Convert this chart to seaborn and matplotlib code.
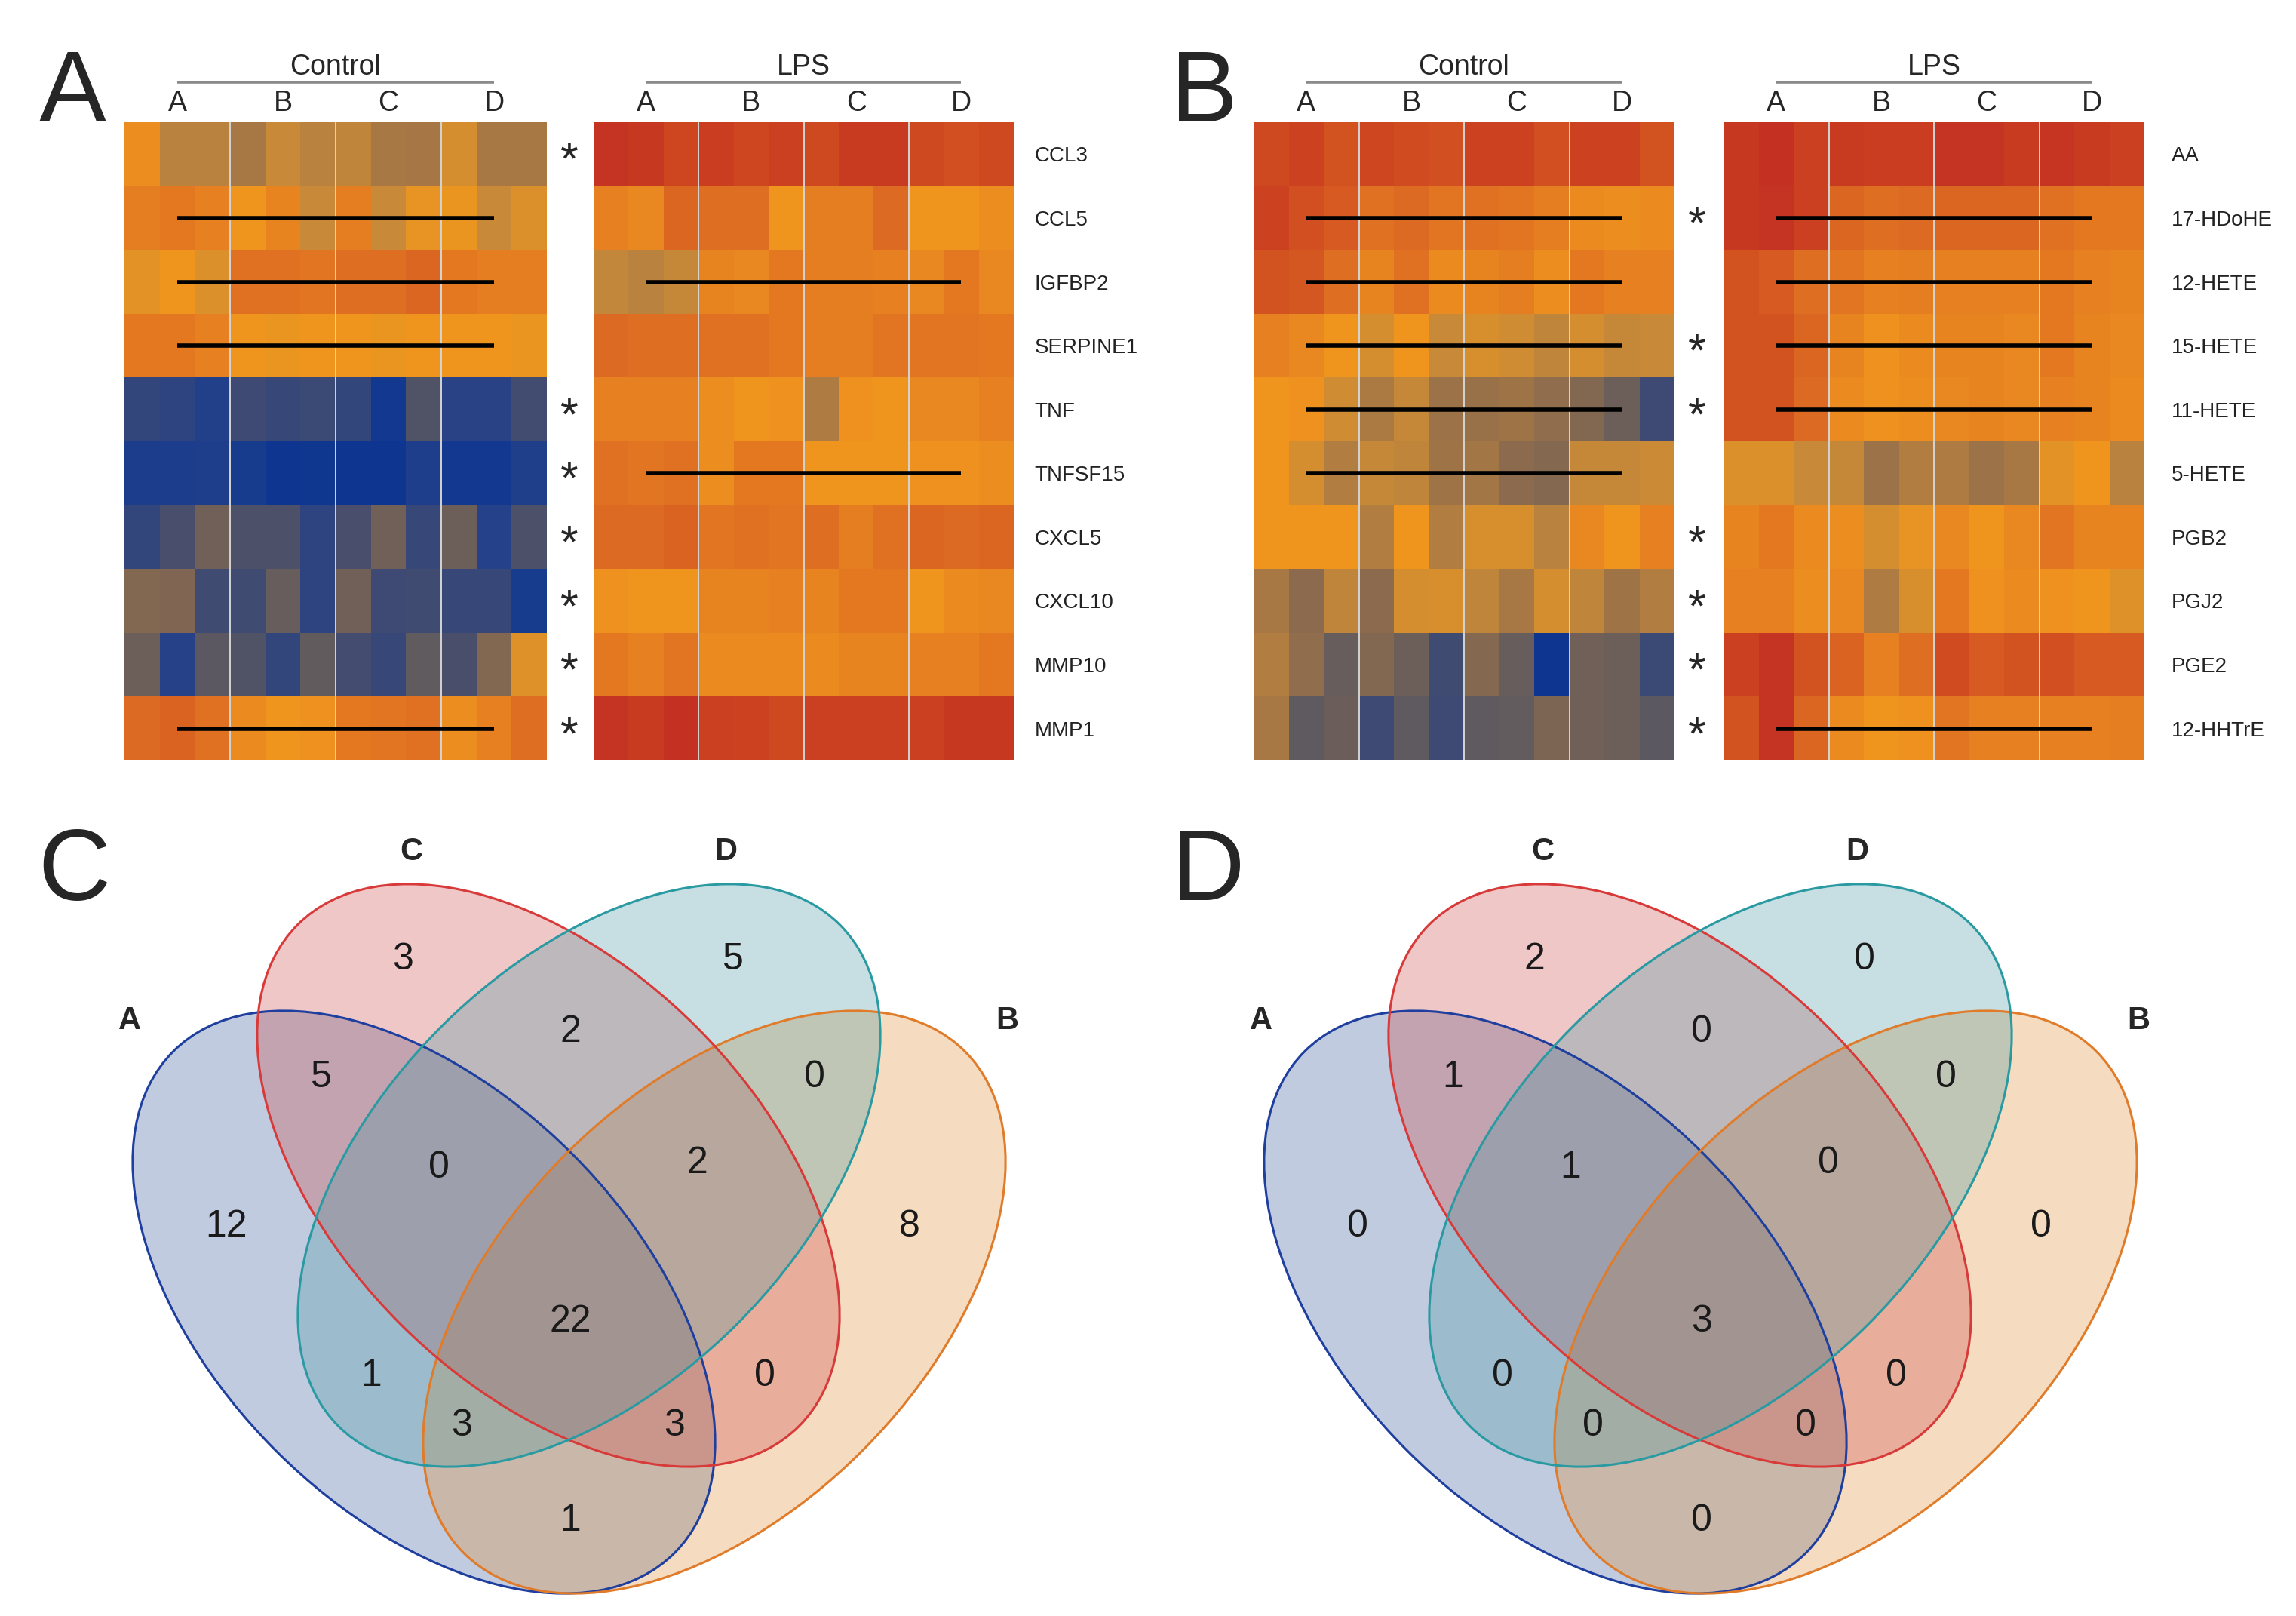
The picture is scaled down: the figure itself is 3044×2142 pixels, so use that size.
import numpy as np
import pandas as pd
import matplotlib
matplotlib.use("Agg")
import matplotlib.pyplot as plt
import seaborn as sns
from matplotlib.colors import LinearSegmentedColormap
from matplotlib.patches import Ellipse

sns.set_style("white")
plt.rcParams['font.family'] = ['Liberation Sans', 'DejaVu Sans']

W, H = 3044, 2142

groups = ['A', 'B', 'C', 'D']
replicates = [f'{g}{r}' for g in groups for r in (1, 2, 3)]
genes = ['CCL3', 'CCL5', 'IGFBP2', 'SERPINE1', 'TNF', 'TNFSF15', 'CXCL5', 'CXCL10', 'MMP10', 'MMP1']
lipids = ['AA', '17-HDoHE', '12-HETE', '15-HETE', '11-HETE', '5-HETE', 'PGB2', 'PGJ2', 'PGE2', '12-HHTrE']

# colour score per cell: 0 = deep blue ... 9 = orange ... 12 = red
a_control = [
    [9.2, 7.5, 7.5, 7.0, 8.0, 7.5, 7.7, 7.0, 6.9, 8.3, 7.0, 7.0],
    [9.7, 9.8, 9.6, 9.0, 9.5, 8.0, 9.7, 8.0, 8.8, 8.9, 8.0, 8.5],
    [8.7, 9.0, 8.5, 10.0, 10.0, 9.9, 10.1, 10.1, 10.3, 9.8, 9.7, 9.7],
    [9.8, 9.8, 9.6, 9.0, 8.9, 9.0, 9.0, 8.9, 9.0, 9.0, 9.0, 8.9],
    [1.8, 1.5, 1.0, 2.3, 2.0, 2.2, 1.8, 0.2, 3.2, 1.3, 1.3, 2.5],
    [0.7, 0.7, 0.8, 0.5, 0.0, 0.1, 0.0, 0.0, 0.8, 0.2, 0.2, 0.9],
    [1.8, 2.8, 5.0, 3.0, 3.0, 1.5, 2.8, 5.0, 2.0, 4.8, 1.1, 3.0],
    [5.7, 5.6, 2.4, 2.4, 4.5, 1.5, 5.0, 2.3, 2.4, 2.0, 2.0, 0.5],
    [4.8, 1.2, 3.8, 3.2, 1.8, 4.2, 2.6, 2.0, 4.1, 2.9, 5.7, 8.6],
    [10.2, 10.4, 10.0, 9.3, 9.0, 9.1, 9.8, 9.9, 10.0, 9.2, 9.6, 10.1],
]
a_lps = [
    [11.9, 11.7, 11.2, 11.5, 11.2, 11.4, 11.1, 11.6, 11.6, 11.1, 10.9, 11.1],
    [9.6, 9.4, 10.3, 10.1, 10.1, 9.0, 9.7, 9.7, 10.2, 9.0, 9.0, 9.2],
    [7.8, 7.5, 7.9, 9.5, 9.4, 9.8, 9.7, 9.7, 9.6, 9.4, 9.8, 9.4],
    [10.2, 10.1, 10.1, 10.0, 10.0, 9.8, 9.7, 9.7, 9.9, 9.9, 9.9, 9.8],
    [9.6, 9.6, 9.6, 9.2, 9.0, 9.1, 7.2, 9.1, 9.0, 9.4, 9.4, 9.6],
    [10.0, 9.9, 10.0, 9.2, 9.8, 9.8, 9.0, 9.0, 9.0, 9.1, 9.1, 9.2],
    [10.2, 10.2, 10.4, 9.9, 10.0, 9.9, 10.1, 9.7, 10.0, 10.3, 10.2, 10.3],
    [9.1, 9.0, 9.0, 9.5, 9.5, 9.6, 9.5, 9.8, 9.8, 9.0, 9.3, 9.4],
    [9.8, 9.6, 9.9, 9.3, 9.3, 9.3, 9.3, 9.5, 9.5, 9.6, 9.6, 9.8],
    [11.9, 11.6, 12.0, 11.4, 11.3, 11.1, 11.4, 11.4, 11.4, 11.4, 11.7, 11.7],
]
b_control = [
    [11.1, 11.3, 10.8, 11.2, 11.0, 10.9, 11.3, 11.3, 10.9, 11.3, 11.3, 10.8],
    [11.3, 10.9, 10.6, 10.0, 10.2, 9.9, 10.0, 9.9, 9.7, 9.3, 9.2, 9.3],
    [10.8, 10.7, 10.1, 9.5, 10.0, 9.3, 9.5, 9.7, 9.2, 9.8, 9.6, 9.6],
    [9.6, 9.4, 9.0, 8.3, 9.0, 8.0, 8.4, 8.2, 7.7, 8.3, 7.9, 8.0],
    [9.0, 9.1, 8.2, 7.1, 7.9, 6.6, 6.5, 6.7, 6.2, 5.7, 4.8, 2.3],
    [9.0, 8.3, 7.3, 7.9, 7.7, 6.7, 6.8, 6.0, 5.8, 7.9, 7.9, 8.1],
    [9.0, 9.0, 9.0, 7.3, 9.0, 7.3, 8.4, 8.4, 7.5, 9.4, 9.0, 9.6],
    [7.0, 6.0, 7.7, 6.0, 8.3, 8.4, 7.7, 7.0, 8.3, 7.7, 6.7, 7.3],
    [7.3, 6.2, 4.5, 5.7, 4.8, 2.4, 5.8, 4.5, 0.0, 5.0, 4.8, 2.2],
    [7.0, 4.0, 4.7, 2.3, 4.0, 2.3, 4.0, 4.3, 5.5, 5.0, 4.8, 3.8],
]
b_lps = [
    [11.7, 12.0, 11.4, 11.6, 11.5, 11.5, 11.9, 11.9, 11.6, 11.8, 11.6, 11.4],
    [11.7, 11.9, 11.4, 10.3, 10.1, 10.2, 10.3, 10.3, 10.3, 10.0, 9.8, 9.8],
    [10.8, 10.6, 10.1, 9.9, 9.6, 9.7, 9.6, 9.6, 9.6, 9.8, 9.6, 9.5],
    [10.8, 10.8, 10.3, 9.5, 9.1, 9.3, 9.5, 9.5, 9.4, 9.8, 9.5, 9.4],
    [10.8, 10.8, 10.2, 9.3, 9.1, 9.2, 9.4, 9.5, 9.4, 9.6, 9.5, 9.3],
    [8.5, 8.5, 8.0, 7.9, 6.6, 7.3, 7.2, 6.6, 7.0, 8.7, 9.0, 7.5],
    [9.5, 9.8, 9.3, 9.2, 8.3, 8.8, 9.4, 9.0, 9.4, 9.9, 9.5, 9.5],
    [9.6, 9.6, 9.2, 9.4, 7.2, 8.4, 9.8, 9.1, 9.3, 9.1, 9.0, 8.6],
    [11.4, 11.9, 10.8, 10.4, 9.6, 10.1, 11.0, 10.6, 10.8, 10.9, 10.6, 10.6],
    [10.8, 11.9, 10.3, 9.3, 9.0, 9.1, 9.9, 9.6, 9.6, 9.6, 9.6, 9.7],
]

# rows with a significance star, and rows crossed by a black bar
genes_star = [1, 0, 0, 0, 1, 1, 1, 1, 1, 1]
lipids_star = [0, 1, 0, 1, 1, 0, 1, 1, 1, 1]
a_control_bar = [0, 1, 1, 1, 0, 0, 0, 0, 0, 1]
a_lps_bar = [0, 0, 1, 0, 0, 1, 0, 0, 0, 0]
b_control_bar = [0, 1, 1, 1, 1, 1, 0, 0, 0, 0]
b_lps_bar = [0, 1, 1, 1, 1, 0, 0, 0, 0, 1]

# venn region counts
venn_regions = ['A', 'B', 'C', 'D', 'AB', 'AC', 'AD', 'BC', 'BD', 'CD',
                'ABC', 'ABD', 'ACD', 'BCD', 'ABCD']
venn_c_counts = [12, 8, 3, 5, 1, 5, 1, 0, 0, 2, 3, 3, 0, 2, 22]
venn_d_counts = [0, 0, 2, 0, 0, 1, 0, 0, 0, 0, 0, 0, 1, 0, 3]

score_colors = [(0, '#0e3690'), (1, '#22408a'), (2, '#384878'), (3, '#4c5068'),
                (4, '#5e5a60'), (5, '#706058'), (6, '#8a6a4e'), (7, '#a87844'),
                (8, '#c88a38'), (8.5, '#da902c'), (9, '#f0961e'), (10, '#e07222'),
                (11, '#d04c20'), (12, '#c43022')]
heat_cmap = LinearSegmentedColormap.from_list(
    'heat', [(v / 12, c) for v, c in score_colors])


def px_rect(x0, x1, y0, y1):
    return [x0 / W, 1 - y1 / H, (x1 - x0) / W, (y1 - y0) / H]


fig = plt.figure(figsize=(W / 100, H / 100), dpi=100)
fig.patch.set_facecolor('white')


def draw_heat(xr, values, rows, header, bars, stars=None, labels=False, pad=20):
    ax = fig.add_axes(px_rect(xr[0], xr[1], 162, 1008))
    df = pd.DataFrame(values, index=rows, columns=replicates)
    sns.heatmap(df, ax=ax, cmap=heat_cmap, vmin=0, vmax=12, cbar=False,
                xticklabels=False, yticklabels=False)
    ax.set_xlabel('')
    ax.set_ylabel('')
    ax.set_xticks(np.arange(len(groups)) * 3 + 1.5)
    ax.set_xticklabels(groups, fontsize=27)
    ax.tick_params(axis='x', length=0, pad=5, top=True, labeltop=True,
                   bottom=False, labelbottom=False)
    if labels:
        ax.yaxis.tick_right()
        ax.set_yticks(np.arange(len(rows)) + 0.5)
        ax.set_yticklabels(rows, rotation=0, fontsize=20, color='#222222')
        ax.tick_params(axis='y', length=0, pad=pad)
    else:
        ax.set_yticks([])
    for k in (3, 6, 9):
        ax.axvline(k, color='#d4d4d4', lw=1.4)
    for i, flag in enumerate(bars):
        if flag:
            ax.hlines(i + 0.5, 1.5, 10.5, color='black', lw=4)
    ax.plot([1.5, 10.5], [-0.63, -0.63], color='#8a8a8a', lw=2.6,
            clip_on=False, solid_capstyle='butt')
    ax.text(6, -0.745, header, ha='center', va='baseline', fontsize=27)
    if stars is not None:
        for i, s in enumerate(stars):
            if s:
                ax.text(12.65, i + 0.5 + 0.13, '*', ha='center', va='center',
                        fontsize=44)
    return ax


draw_heat((165, 725), a_control, genes, 'Control', a_control_bar, stars=genes_star)
draw_heat((787, 1344), a_lps, genes, 'LPS', a_lps_bar, labels=True, pad=20)
draw_heat((1662, 2220), b_control, lipids, 'Control', b_control_bar, stars=lipids_star)
draw_heat((2285, 2843), b_lps, lipids, 'LPS', b_lps_bar, labels=True, pad=26)

# venn layout: ellipse centres relative to the symmetry axis
ell_a, ell_b = 470, 278
venn_sets = [
    ('A', -192, 1726, 45, '#1f3f9f', '#345598'),
    ('B', 193, 1726, -45, '#e07b2a', '#de8a2d'),
    ('C', -27, 1558, 45, '#d83a3a', '#cd4848'),
    ('D', 27, 1558, -45, '#2a9aa2', '#4898a2'),
]
set_label_pos = {'A': (-582, 1353), 'B': (581, 1353), 'C': (-209, 1129), 'D': (208, 1129)}


def region_centres(x0):
    xs = np.arange(x0 - 700, x0 + 700, 6.0)
    ys = np.arange(1080, 2140, 6.0)
    gx, gy = np.meshgrid(xs, ys)
    px, py = gx.ravel(), gy.ravel()
    t = np.linspace(0, 2 * np.pi, 720, endpoint=False)
    inside = {}
    outline = []
    for name, dx, cy, ang, _, _ in venn_sets:
        cx = x0 + dx
        th = np.deg2rad(ang)
        rx, ry = px - cx, py - cy
        u = rx * np.cos(th) + ry * np.sin(th)
        v = -rx * np.sin(th) + ry * np.cos(th)
        inside[name] = (u / ell_a) ** 2 + (v / ell_b) ** 2 <= 1
        ox = cx + ell_a * np.cos(t) * np.cos(th) - ell_b * np.sin(t) * np.sin(th)
        oy = cy + ell_a * np.cos(t) * np.sin(th) + ell_b * np.sin(t) * np.cos(th)
        outline.append(np.column_stack([ox, oy]))
    outline = np.vstack(outline)
    pts = np.column_stack([px, py])
    dist = np.empty(len(pts))
    for i in range(0, len(pts), 1500):
        ch = pts[i:i + 1500]
        dist[i:i + 1500] = np.sqrt(((ch[:, None, :] - outline[None, :, :]) ** 2).sum(-1)).min(1)
    centres = {}
    for reg in venn_regions:
        mask = np.ones(len(pts), bool)
        for name in 'ABCD':
            mask &= inside[name] if name in reg else ~inside[name]
        idx = np.where(mask)[0]
        best = idx[np.argmax(dist[idx])]
        centres[reg] = (px[best], py[best])
    return centres


def draw_venn(xlo, xhi, x0, counts):
    ax = fig.add_axes(px_rect(xlo, xhi, 1060, H))
    ax.set_xlim(xlo, xhi)
    ax.set_ylim(H, 1060)
    ax.axis('off')
    for name, dx, cy, ang, edge, fill in venn_sets:
        ax.add_patch(Ellipse((x0 + dx, cy), 2 * ell_a, 2 * ell_b, angle=ang,
                             facecolor=fill, alpha=0.3, edgecolor='none'))
    for name, dx, cy, ang, edge, fill in venn_sets:
        ax.add_patch(Ellipse((x0 + dx, cy), 2 * ell_a, 2 * ell_b, angle=ang,
                             facecolor='none', edgecolor=edge, lw=2.2))
    centres = region_centres(x0)
    for reg, n in zip(venn_regions, counts):
        cx, cy = centres[reg]
        ax.text(cx, cy, str(n), ha='center', va='center', fontsize=36, color='#1a1a1a')
    for name, (dx, y) in set_label_pos.items():
        ax.text(x0 + dx, y, name, ha='center', va='center', fontsize=30,
                fontweight='bold')
    return ax


draw_venn(0, 1522, 754, venn_c_counts)
draw_venn(1522, W, 2254, venn_d_counts)

# panel letters
for letter, x, y in [('A', 52, 161), ('B', 1552, 161), ('C', 50, 1193), ('D', 1554, 1193)]:
    fig.text(x / W, 1 - y / H, letter, fontsize=96, ha='left', va='baseline')

fig.savefig('out.png', dpi=100, facecolor='white')
